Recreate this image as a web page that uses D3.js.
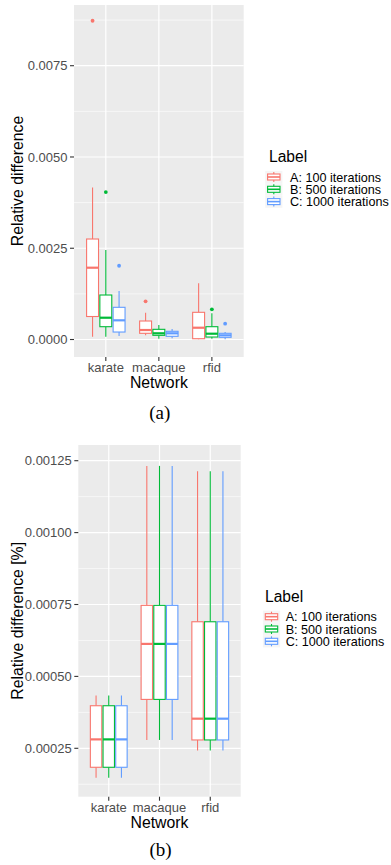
<!DOCTYPE html>
<html>
<head>
<meta charset="utf-8">
<script src="https://cdn.jsdelivr.net/npm/d3@7"></script>
<style>
  html, body { margin: 0; padding: 0; background: #fff; }
  svg { display: block; }
  text { font-family: "Liberation Sans", Arial, Helvetica, sans-serif; }
</style>
</head>
<body>
<svg id="chart" width="391" height="865"></svg>
<script>
// ---------------- DATA ----------------
const categories = ["karate", "macaque", "rfid"];
const seriesLabels = ["A: 100 iterations", "B: 500 iterations", "C: 1000 iterations"];
const seriesColors = ["#F8766D", "#00BA38", "#619CFF"];

// Panel (a): [lowerWhisker, Q1, median, Q3, upperWhisker] per category
const a_100 = [
  [0.000077, 0.00063, 0.001967, 0.002753, 0.004164],
  [0.000115, 0.00017, 0.00026, 0.000507, 0.000734],
  [0.000004, 0.000022, 0.000323, 0.000745, 0.001539]
];
const a_500 = [
  [0.000077, 0.000351, 0.000597, 0.001219, 0.002451],
  [0.000022, 0.000115, 0.00017, 0.000279, 0.000397],
  [0.000022, 0.000068, 0.000159, 0.000351, 0.000718]
];
const a_1000 = [
  [0.000096, 0.000205, 0.000526, 0.000882, 0.001328],
  [0.000033, 0.000088, 0.00017, 0.000225, 0.000288],
  [0.000005, 0.00006, 0.000115, 0.00017, 0.000205]
];
const a_out_100 = [[0.008732], [0.001046], []];
const a_out_500 = [[0.00404], [], [0.000827]];
const a_out_1000 = [[0.002021], [], [0.000433]];
const a_ticks = [0, 0.0025, 0.005, 0.0075];
const a_tickLabels = ["0.0000", "0.0025", "0.0050", "0.0075"];
const a_minor = [0.00125, 0.00375, 0.00625, 0.00875];

// Panel (b)
const b_100 = [
  [0.000148, 0.000184, 0.000281, 0.000398, 0.000434],
  [0.000279, 0.00042, 0.000613, 0.000747, 0.001232],
  [0.000242, 0.000279, 0.000353, 0.00069, 0.001213]
];
const b_500 = [
  [0.000148, 0.000184, 0.000281, 0.000398, 0.000434],
  [0.000279, 0.00042, 0.000613, 0.000747, 0.001232],
  [0.000242, 0.000279, 0.000353, 0.00069, 0.001213]
];
const b_1000 = [
  [0.000148, 0.000184, 0.000281, 0.000398, 0.000434],
  [0.000279, 0.00042, 0.000613, 0.000747, 0.001232],
  [0.000242, 0.000279, 0.000353, 0.00069, 0.001213]
];
const b_ticks = [0.00025, 0.0005, 0.00075, 0.001, 0.00125];
const b_tickLabels = ["0.00025", "0.00050", "0.00075", "0.00100", "0.00125"];
const b_minor = [0.000125, 0.000375, 0.000625, 0.000875, 0.001125];

// ---------------- DRAW ----------------
const svg = d3.select("#chart");

function drawPanel(cfg) {
  const g = svg.append("g");
  // ggplot discrete expansion: 0.6 units on each side
  const x = d3.scalePoint().domain(categories)
    .range([cfg.left, cfg.right]).padding(0.6);
  const xc = c => x(c);
  const unit = x.step();
  const y = d3.scaleLinear().domain(cfg.domain).range([cfg.bottom, cfg.top]);

  // panel background
  g.append("rect").attr("x", cfg.left).attr("y", cfg.top)
    .attr("width", cfg.right - cfg.left).attr("height", cfg.bottom - cfg.top)
    .attr("fill", "#EBEBEB");
  // minor grid
  g.selectAll(".minor").data(cfg.minor).enter().append("line")
    .attr("x1", cfg.left).attr("x2", cfg.right)
    .attr("y1", d => y(d)).attr("y2", d => y(d))
    .attr("stroke", "#fff").attr("stroke-width", 0.6);
  // major grid
  g.selectAll(".major").data(cfg.ticks).enter().append("line")
    .attr("x1", cfg.left).attr("x2", cfg.right)
    .attr("y1", d => y(d)).attr("y2", d => y(d))
    .attr("stroke", "#fff").attr("stroke-width", 1.2);
  g.selectAll(".vmajor").data(categories).enter().append("line")
    .attr("x1", d => xc(d)).attr("x2", d => xc(d))
    .attr("y1", cfg.top).attr("y2", cfg.bottom)
    .attr("stroke", "#fff").attr("stroke-width", 1.2);

  // boxes
  const boxW = unit * 0.225;
  const off = unit * 0.25;
  cfg.series.forEach((stats, si) => {
    const col = seriesColors[si];
    const outs = cfg.outliers ? cfg.outliers[si] : null;
    categories.forEach((c, ci) => {
      const s = stats[ci];
      const cx = xc(c) + (si - 1) * off;
      g.append("line").attr("x1", cx).attr("x2", cx)
        .attr("y1", y(s[0])).attr("y2", y(s[1]))
        .attr("stroke", col).attr("stroke-width", 1.1);
      g.append("line").attr("x1", cx).attr("x2", cx)
        .attr("y1", y(s[3])).attr("y2", y(s[4]))
        .attr("stroke", col).attr("stroke-width", 1.1);
      g.append("rect").attr("x", cx - boxW / 2).attr("y", y(s[3]))
        .attr("width", boxW).attr("height", Math.max(0.5, y(s[1]) - y(s[3])))
        .attr("fill", "#fff").attr("stroke", col).attr("stroke-width", 1.1);
      g.append("line").attr("x1", cx - boxW / 2).attr("x2", cx + boxW / 2)
        .attr("y1", y(s[2])).attr("y2", y(s[2]))
        .attr("stroke", col).attr("stroke-width", 2.2);
      if (outs) {
        outs[ci].forEach(v => {
          g.append("circle").attr("cx", cx).attr("cy", y(v)).attr("r", 1.9)
            .attr("fill", col);
        });
      }
    });
  });

  // y axis ticks & labels
  cfg.ticks.forEach((t, i) => {
    g.append("line").attr("x1", cfg.left - 4).attr("x2", cfg.left)
      .attr("y1", y(t)).attr("y2", y(t))
      .attr("stroke", "#333").attr("stroke-width", 1.1);
    g.append("text").attr("x", cfg.left - 6.5).attr("y", y(t))
      .attr("dy", "0.36em").attr("text-anchor", "end")
      .attr("font-size", "13px").attr("fill", "#4D4D4D")
      .text(cfg.tickLabels[i]);
  });
  // x axis ticks & labels
  categories.forEach(c => {
    g.append("line").attr("x1", xc(c)).attr("x2", xc(c))
      .attr("y1", cfg.bottom).attr("y2", cfg.bottom + 4)
      .attr("stroke", "#333").attr("stroke-width", 1.1);
    g.append("text").attr("x", xc(c)).attr("y", cfg.bottom + 14.9)
      .attr("text-anchor", "middle")
      .attr("font-size", "13px").attr("fill", "#4D4D4D").text(c);
  });
  // axis titles
  g.append("text").attr("x", (cfg.left + cfg.right) / 2).attr("y", cfg.bottom + 31.3)
    .attr("text-anchor", "middle").attr("font-size", "15.8px").attr("fill", "#000")
    .text("Network");
  g.append("text")
    .attr("transform", `translate(23,${(cfg.top + cfg.bottom) / 2}) rotate(-90)`)
    .attr("text-anchor", "middle").attr("font-size", "15.8px").attr("fill", "#000")
    .text(cfg.yTitle);

  // caption
  g.append("text").attr("x", (cfg.left + cfg.right) / 2 + 1).attr("y", cfg.captionY)
    .attr("text-anchor", "middle")
    .style("font-family", "'Liberation Serif', 'Times New Roman', serif")
    .attr("font-size", "19px").attr("fill", "#000").text(cfg.caption);

  // legend
  const L = cfg.legend;
  g.append("text").attr("x", L.titleX).attr("y", L.titleY)
    .attr("font-size", "15.6px").attr("fill", "#000").text("Label");
  seriesLabels.forEach((lab, i) => {
    const cy = L.rowY + i * 12.3;
    const col = seriesColors[i];
    g.append("rect").attr("x", L.keyX - 8.6).attr("y", cy - 6.15)
      .attr("width", 17.2).attr("height", 12.3).attr("fill", "#F5F5F5");
    g.append("line").attr("x1", L.keyX).attr("x2", L.keyX)
      .attr("y1", cy - 5).attr("y2", cy + 5)
      .attr("stroke", col).attr("stroke-width", 1.1);
    g.append("rect").attr("x", L.keyX - 6.2).attr("y", cy - 3)
      .attr("width", 12.4).attr("height", 6)
      .attr("fill", "#fff").attr("stroke", col).attr("stroke-width", 1.1);
    g.append("line").attr("x1", L.keyX - 6.2).attr("x2", L.keyX + 6.2)
      .attr("y1", cy).attr("y2", cy)
      .attr("stroke", col).attr("stroke-width", 1.6);
    g.append("text").attr("x", L.textX).attr("y", cy).attr("dy", "0.36em")
      .attr("font-size", "12.6px").attr("fill", "#000").text(lab);
  });
}

drawPanel({
  left: 74, right: 243.7, top: 5, bottom: 357,
  domain: [-0.000479, 0.009163],
  ticks: a_ticks, tickLabels: a_tickLabels, minor: a_minor,
  series: [a_100, a_500, a_1000],
  outliers: [a_out_100, a_out_500, a_out_1000],
  yTitle: "Relative difference",
  caption: "(a)", captionY: 418.5,
  legend: { titleX: 269, titleY: 161.7, keyX: 273.8, rowY: 177, textX: 290 }
});

drawPanel({
  left: 78.3, right: 240.7, top: 445, bottom: 796.7,
  domain: [0.0000817, 0.0013046],
  ticks: b_ticks, tickLabels: b_tickLabels, minor: b_minor,
  series: [b_100, b_500, b_1000],
  outliers: null,
  yTitle: "Relative difference [%]",
  caption: "(b)", captionY: 856,
  legend: { titleX: 265, titleY: 601.7, keyX: 271.5, rowY: 616.7, textX: 285.7 }
});
</script>
</body>
</html>
